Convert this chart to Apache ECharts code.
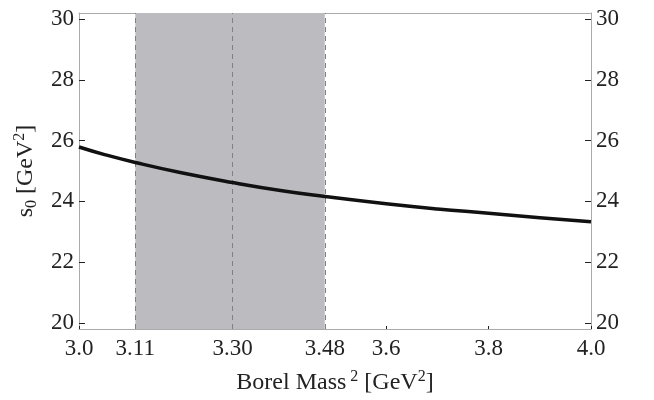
<!DOCTYPE html>
<html>
<head>
<meta charset="utf-8">
<script src="https://cdn.jsdelivr.net/npm/echarts@6/dist/echarts.min.js"></script>
<style>
html,body{margin:0;padding:0;background:#fff;}
#chart{width:654px;height:400px;}
</style>
</head>
<body>
<div id="chart"></div>
<script>
const borelMass2 = [3.0, 3.05, 3.11, 3.2, 3.3, 3.4, 3.48, 3.6, 3.7, 3.8, 3.9, 4.0];
const s0Values = [25.79, 25.54, 25.28, 24.94, 24.62, 24.34, 24.16, 23.92, 23.75, 23.61, 23.46, 23.33];
const xTickValues = [3.0, 3.11, 3.30, 3.48, 3.6, 3.8, 4.0];
const xTickLabels = ['3.0', '3.11', '3.30', '3.48', '3.6', '3.8', '4.0'];
const yTickValues = [20, 22, 24, 26, 28, 30];
const bandRange = [3.11, 3.48];
const dashedLines = [3.11, 3.30, 3.48];

const FONT = '"Liberation Serif", "DejaVu Serif", serif';
const chart = echarts.init(document.getElementById('chart'));

const yAxisCommon = {
  type: 'value', min: 19.8, max: 30.2,
  splitLine: { show: false },
  axisLine: { show: true, lineStyle: { color: '#aaaaaa', width: 1 } },
  axisTick: { show: true, inside: true, length: 6, customValues: yTickValues, lineStyle: { color: '#222', width: 1 } },
  axisLabel: { customValues: yTickValues, fontFamily: FONT, fontSize: 23, color: '#222', margin: 5 }
};

chart.setOption({
  animation: false,
  textStyle: { fontFamily: FONT },
  grid: { left: 79, right: 63, top: 13, bottom: 71 },
  xAxis: [{
    type: 'value', min: 3.0, max: 4.0, position: 'bottom',
    splitLine: { show: false },
    axisLine: { show: true, lineStyle: { color: '#aaaaaa', width: 1 } },
    axisTick: { show: true, inside: true, length: 3, customValues: xTickValues, lineStyle: { color: '#222', width: 1 } },
    axisLabel: {
      customValues: xTickValues, fontFamily: FONT, fontSize: 23, color: '#222', margin: 8,
      formatter: function (v) {
        const i = xTickValues.findIndex(t => Math.abs(t - v) < 1e-6);
        return i >= 0 ? xTickLabels[i] : '';
      }
    },
    name: '{b|Borel Mass}{sp| 2}{b| [GeV}{sp|2}{b|]}',
    nameLocation: 'middle', nameGap: 40,
    nameTextStyle: {
      rich: {
        b: { fontFamily: FONT, fontSize: 24, color: '#222', lineHeight: 26, verticalAlign: 'bottom' },
        sp: { fontFamily: FONT, fontSize: 16, color: '#222', lineHeight: 26, verticalAlign: 'top' }
      }
    }
  }, {
    type: 'value', min: 3.0, max: 4.0, position: 'top',
    splitLine: { show: false },
    axisLine: { show: true, onZero: false, lineStyle: { color: '#aaaaaa', width: 1 } },
    axisTick: { show: false }, axisLabel: { show: false }
  }],
  yAxis: [Object.assign({}, yAxisCommon, {
    position: 'left',
    name: '{b|s}{sb|0}{b| [GeV}{sp|2}{b|]}',
    nameLocation: 'middle', nameGap: 38, nameRotate: 90,
    nameTextStyle: {
      rich: {
        b: { fontFamily: FONT, fontSize: 24, color: '#222', lineHeight: 28, verticalAlign: 'middle' },
        sb: { fontFamily: FONT, fontSize: 16, color: '#222', lineHeight: 28, verticalAlign: 'bottom' },
        sp: { fontFamily: FONT, fontSize: 16, color: '#222', lineHeight: 28, verticalAlign: 'top' }
      }
    }
  }), Object.assign({}, yAxisCommon, { position: 'right' })],
  series: [{
    type: 'line', xAxisIndex: 0, yAxisIndex: 0,
    data: borelMass2.map((x, i) => [x, s0Values[i]]),
    smooth: true, symbol: 'none',
    lineStyle: { color: '#111', width: 3.5 },
    z: 5,
    markArea: {
      silent: true,
      itemStyle: { color: '#bcbcc0' },
      data: [[{ xAxis: bandRange[0] }, { xAxis: bandRange[1] }]]
    },
    markLine: {
      silent: true, symbol: 'none', label: { show: false },
      lineStyle: { color: '#808080', width: 1, type: [5, 4] },
      data: dashedLines.map(v => ({ xAxis: v }))
    }
  }]
});
</script>
</body>
</html>
